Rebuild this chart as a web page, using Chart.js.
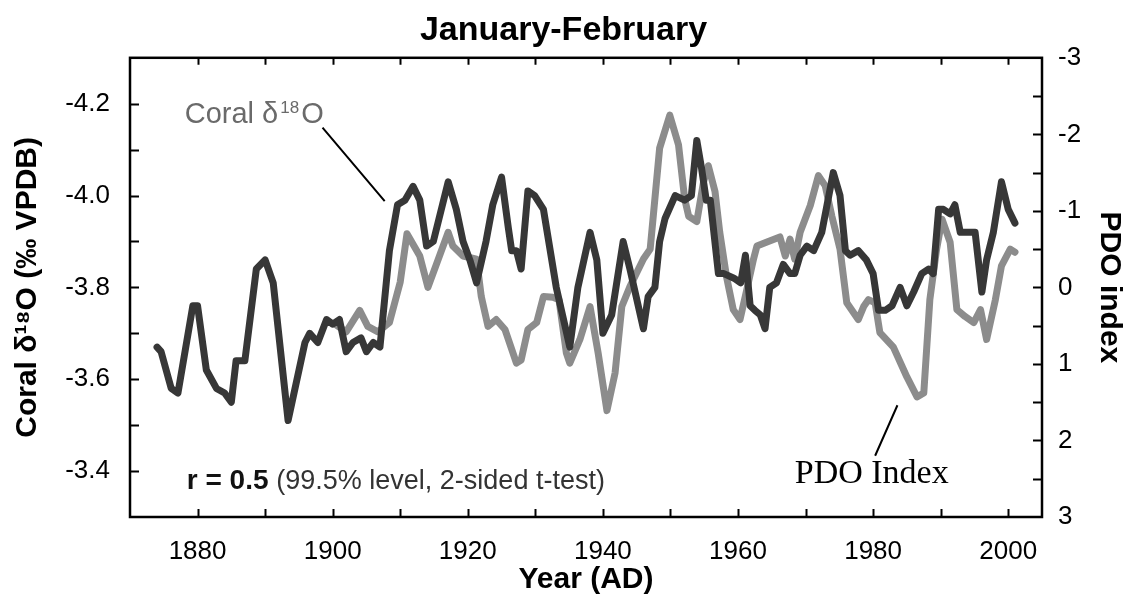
<!DOCTYPE html>
<html>
<head>
<meta charset="utf-8">
<script src="https://cdn.jsdelivr.net/npm/chart.js@4.4.1/dist/chart.umd.min.js"></script>
<style>
  html, body { margin: 0; padding: 0; background: #fff; }
  #wrap { width: 1127px; height: 598px; }
</style>
</head>
<body>
<div id="wrap"><canvas id="chart" width="1127" height="598"></canvas></div>
<script>
// Coral d18O record (left axis, per mil VPDB)
var coralYears = [1874.0, 1874.6, 1876.1, 1877.1, 1879.3, 1880.0, 1881.3, 1882.8, 1884.0, 1885.0,
    1885.7, 1887.0, 1888.7, 1890.0, 1891.2, 1893.4, 1895.9, 1896.6, 1897.8, 1899.1,
    1900.0, 1901.0, 1902.0, 1903.0, 1904.2, 1905.0, 1906.0, 1907.0, 1908.4, 1909.6,
    1910.7, 1911.9, 1912.9, 1913.9, 1914.9, 1917.1, 1918.3, 1919.3, 1920.3, 1921.3,
    1922.7, 1923.7, 1925.0, 1926.0, 1926.5, 1927.2, 1927.9, 1928.9, 1929.9, 1931.2,
    1933.1, 1935.1, 1936.3, 1938.1, 1939.1, 1940.0, 1941.3, 1943.0, 1944.0, 1946.0,
    1946.7, 1947.7, 1948.4, 1949.2, 1950.7, 1952.1, 1953.1, 1953.9, 1954.6, 1955.3,
    1955.9, 1957.1, 1957.9, 1959.4, 1960.4, 1961.1, 1961.8, 1962.5, 1963.3, 1964.0,
    1964.7, 1965.7, 1966.7, 1967.7, 1968.4, 1969.2, 1970.2, 1971.2, 1972.4, 1974.1,
    1975.1, 1975.9, 1976.6, 1977.8, 1979.0, 1980.0, 1980.8, 1981.8, 1982.8, 1984.0,
    1985.0, 1986.0, 1987.2, 1988.2, 1988.9, 1989.7, 1990.4, 1991.4, 1992.1, 1992.9,
    1994.1, 1995.1, 1996.1, 1996.8, 1997.8, 1999.0, 2000.0, 2001.0];
var coralValues = [-3.67, -3.66, -3.58, -3.57, -3.76, -3.76, -3.62, -3.58, -3.57, -3.55,
    -3.64, -3.64, -3.84, -3.86, -3.81, -3.51, -3.68, -3.70, -3.68, -3.73,
    -3.72, -3.73, -3.66, -3.68, -3.69, -3.66, -3.68, -3.67, -3.88, -3.98,
    -3.99, -4.02, -3.99, -3.89, -3.90, -4.03, -3.97, -3.90, -3.86, -3.81,
    -3.90, -3.98, -4.04, -3.93, -3.88, -3.88, -3.84, -4.01, -4.00, -3.97,
    -3.80, -3.67, -3.80, -3.92, -3.86, -3.70, -3.74, -3.90, -3.84, -3.71,
    -3.78, -3.80, -3.90, -3.95, -4.00, -3.99, -4.00, -4.12, -4.06, -3.99,
    -3.99, -3.83, -3.83, -3.82, -3.81, -3.87, -3.76, -3.75, -3.74, -3.71,
    -3.80, -3.81, -3.85, -3.83, -3.83, -3.87, -3.89, -3.88, -3.92, -4.05,
    -4.00, -3.88, -3.87, -3.88, -3.86, -3.83, -3.75, -3.75, -3.76, -3.80,
    -3.76, -3.79, -3.83, -3.84, -3.83, -3.97, -3.97, -3.96, -3.98, -3.92,
    -3.92, -3.92, -3.79, -3.86, -3.92, -4.03, -3.97, -3.94];

// PDO index (right axis)
var pdoYears = [1900.5, 1902.0, 1904.0, 1905.2, 1906.7, 1908.4, 1910.0, 1911.0, 1912.9, 1914.1,
    1917.1, 1917.8, 1919.3, 1921.3, 1922.0, 1923.0, 1924.2, 1925.5, 1927.2, 1927.9,
    1928.9, 1930.2, 1931.2, 1932.6, 1933.5, 1934.6, 1935.1, 1936.6, 1938.1, 1939.3,
    1940.6, 1941.8, 1942.8, 1944.0, 1946.0, 1947.0, 1948.4, 1949.9, 1951.2, 1952.1,
    1952.7, 1953.9, 1954.9, 1955.6, 1956.6, 1957.3, 1958.3, 1959.3, 1960.3, 1961.3,
    1962.3, 1962.8, 1964.2, 1966.2, 1967.0, 1967.7, 1968.4, 1969.2, 1970.7, 1971.9,
    1972.9, 1973.9, 1975.1, 1976.1, 1977.8, 1978.6, 1979.3, 1980.3, 1981.0, 1983.0,
    1985.0, 1986.5, 1987.5, 1988.4, 1989.4, 1990.2, 1991.4, 1992.4, 1993.6, 1994.9,
    1995.9, 1996.8, 1998.1, 1999.0, 2000.3, 2001.0];
var pdoValues = [0.49, 0.58, 0.30, 0.51, 0.58, 0.46, -0.07, -0.70, -0.41, 0.00,
    -0.72, -0.54, -0.41, -0.37, 0.12, 0.51, 0.42, 0.55, 0.99, 0.95,
    0.55, 0.46, 0.12, 0.13, 0.16, 0.86, 0.99, 0.68, 0.25, 0.86,
    1.61, 1.12, 0.25, -0.01, -0.37, -0.50, -1.82, -2.25, -1.86, -1.16,
    -0.93, -0.86, -1.38, -1.59, -1.25, -0.72, -0.14, 0.29, 0.42, 0.03,
    -0.37, -0.54, -0.59, -0.66, -0.41, -0.63, -0.37, -0.72, -1.07, -1.46,
    -1.33, -0.93, -0.50, 0.20, 0.42, 0.25, 0.16, 0.20, 0.59, 0.78,
    1.17, 1.43, 1.38, 0.16, -0.50, -0.89, -0.59, 0.29, 0.38, 0.46,
    0.29, 0.68, 0.16, -0.28, -0.50, -0.46];

var yearTicks = [1880, 1900, 1920, 1940, 1960, 1980, 2000];
var coralTicks = [-4.2, -4.0, -3.8, -3.6, -3.4];
var pdoTicks = [-3, -2, -1, 0, 1, 2, 3];

var SANS = '"Liberation Sans", Arial, Helvetica, sans-serif';
var SERIF = '"Liberation Serif", "Times New Roman", serif';

function toPoints(xs, ys) {
    return xs.map(function(x, i) { return {x: x, y: ys[i]}; });
}

// inward tick marks and the box round the plot
var frameTicks = {
    id: 'frameTicks',
    afterDraw: function(chart) {
        var ctx = chart.ctx, a = chart.chartArea;
        var sx = chart.scales.x, sl = chart.scales.y, sr = chart.scales.y1;
        ctx.save();
        ctx.strokeStyle = '#000';
        ctx.lineWidth = 2;
        ctx.beginPath();
        for (var yr = 1880; yr <= 2000; yr += 10) {
            var px = Math.round(sx.getPixelForValue(yr)) + 0.5;
            ctx.moveTo(px, a.bottom); ctx.lineTo(px, a.bottom - 8);
            ctx.moveTo(px, a.top); ctx.lineTo(px, a.top + 7);
        }
        for (var i = -42; i <= -34; i++) {
            var py = Math.round(sl.getPixelForValue(i / 10)) + 0.5;
            ctx.moveTo(a.left, py); ctx.lineTo(a.left + 9, py);
        }
        for (var j = -5; j <= 5; j++) {
            var qy = Math.round(sr.getPixelForValue(j / 2)) + 0.5;
            ctx.moveTo(a.right, qy); ctx.lineTo(a.right - 9, qy);
        }
        ctx.stroke();
        ctx.lineWidth = 2.5;
        ctx.strokeRect(a.left, a.top, a.right - a.left, a.bottom - a.top);
        ctx.restore();
    }
};

// text labels inside the plot
var notes = {
    id: 'notes',
    afterDraw: function(chart) {
        var ctx = chart.ctx;
        var sx = chart.scales.x, sl = chart.scales.y, sr = chart.scales.y1;
        ctx.save();
        ctx.textBaseline = 'alphabetic';
        ctx.textAlign = 'left';

        // Coral d18O label with leader line
        var cx = sx.getPixelForValue(1878.1), cy = sl.getPixelForValue(-4.159);
        ctx.fillStyle = '#6a6a6a';
        ctx.font = '29px ' + SANS;
        ctx.fillText('Coral \u03B4', cx, cy);
        var w1 = ctx.measureText('Coral \u03B4').width;
        ctx.font = '17px ' + SANS;
        ctx.fillText('18', cx + w1 + 2, cy - 10);
        var w2 = ctx.measureText('18').width;
        ctx.font = '29px ' + SANS;
        ctx.fillText('O', cx + w1 + w2 + 4, cy);

        ctx.strokeStyle = '#000';
        ctx.lineWidth = 2;
        ctx.beginPath();
        ctx.moveTo(sx.getPixelForValue(1898.5), sl.getPixelForValue(-4.148));
        ctx.lineTo(sx.getPixelForValue(1907.7), sl.getPixelForValue(-3.988));
        ctx.moveTo(sx.getPixelForValue(1983.6), sr.getPixelForValue(1.54));
        ctx.lineTo(sx.getPixelForValue(1980.3), sr.getPixelForValue(2.2));
        ctx.stroke();

        // PDO Index label
        ctx.fillStyle = '#000';
        ctx.font = '34px ' + SERIF;
        ctx.fillText('PDO Index', sx.getPixelForValue(1968.4), sr.getPixelForValue(2.55));

        // correlation note
        var rx = sx.getPixelForValue(1878.4), ry = sl.getPixelForValue(-3.362);
        ctx.fillStyle = '#111';
        ctx.font = 'bold 28px ' + SANS;
        ctx.fillText('r = 0.5', rx, ry);
        var w3 = ctx.measureText('r = 0.5 ').width;
        ctx.fillStyle = '#333';
        ctx.font = '27px ' + SANS;
        ctx.fillText('(99.5% level, 2-sided t-test)', rx + w3, ry);
        ctx.restore();
    }
};

var ctx = document.getElementById('chart').getContext('2d');
var chart = new Chart(ctx, {
    type: 'line',
    data: {
        datasets: [{
            label: 'Coral \u03B4\u00B9\u2078O',
            data: toPoints(coralYears, coralValues),
            yAxisID: 'y',
            borderColor: '#373737',
            borderWidth: 7,
            borderJoinStyle: 'round',
            borderCapStyle: 'round',
            pointRadius: 0,
            tension: 0,
            fill: false
        }, {
            label: 'PDO Index',
            data: toPoints(pdoYears, pdoValues),
            yAxisID: 'y1',
            borderColor: '#8c8c8c',
            borderWidth: 7,
            borderJoinStyle: 'round',
            borderCapStyle: 'round',
            pointRadius: 0,
            tension: 0,
            fill: false
        }]
    },
    options: {
        responsive: false,
        animation: false,
        devicePixelRatio: 1,
        layout: { padding: 0 },
        plugins: {
            legend: { display: false },
            tooltip: { enabled: false },
            title: {
                display: true,
                text: 'January-February',
                color: '#000',
                font: { family: SANS, size: 34, weight: 'bold' },
                padding: { top: 10, bottom: 7 }
            }
        },
        scales: {
            x: {
                type: 'linear',
                position: 'bottom',
                min: 1870,
                max: 2005,
                afterFit: function(s) { s.height = 81; },
                afterBuildTicks: function(s) {
                    s.ticks = yearTicks.map(function(v) { return {value: v}; });
                },
                grid: { display: false },
                border: { display: false },
                ticks: {
                    color: '#000',
                    font: { family: SANS, size: 26 },
                    padding: 11,
                    maxRotation: 0,
                    autoSkip: false,
                    callback: function(v) { return String(v); }
                },
                title: {
                    display: true,
                    text: 'Year (AD)',
                    color: '#000',
                    font: { family: SANS, size: 30, weight: 'bold' },
                    padding: { top: 0, bottom: 0 }
                }
            },
            y: {
                type: 'linear',
                position: 'left',
                reverse: true,
                min: -4.3,
                max: -3.3,
                afterFit: function(s) { s.width = 130; },
                afterBuildTicks: function(s) {
                    s.ticks = coralTicks.map(function(v) { return {value: v}; });
                },
                grid: { display: false },
                border: { display: false },
                ticks: {
                    color: '#000',
                    font: { family: SANS, size: 26 },
                    padding: 12,
                    callback: function(v) { return v.toFixed(1); }
                },
                title: {
                    display: true,
                    text: 'Coral \u03B4\u00B9\u2078O (\u2030 VPDB)',
                    color: '#000',
                    font: { family: SANS, size: 30, weight: 'bold' },
                    padding: { top: 10, bottom: 0 }
                }
            },
            y1: {
                type: 'linear',
                position: 'right',
                reverse: true,
                min: -3,
                max: 3,
                afterFit: function(s) { s.width = 85; },
                afterBuildTicks: function(s) {
                    s.ticks = pdoTicks.map(function(v) { return {value: v}; });
                },
                grid: { display: false },
                border: { display: false },
                ticks: {
                    color: '#000',
                    font: { family: SANS, size: 26 },
                    padding: 8,
                    callback: function(v) { return String(v); }
                },
                title: {
                    display: true,
                    text: 'PDO index',
                    color: '#000',
                    font: { family: SANS, size: 30, weight: 'bold' },
                    padding: { top: 0, bottom: 0 }
                }
            }
        }
    },
    plugins: [frameTicks, notes]
});
</script>
</body>
</html>
